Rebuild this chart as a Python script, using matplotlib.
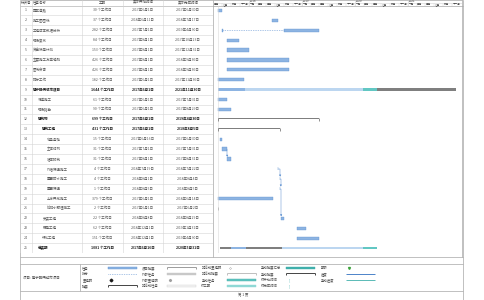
import numpy as np
import pandas as pd
import matplotlib
matplotlib.use("Agg")
from matplotlib import pyplot as plt
import matplotlib.dates as mdates

plt.rcParams['font.family'] = ['Noto Sans CJK SC', 'DejaVu Sans']
plt.rcParams['text.color'] = '#4D4D4D'

#task table data
task_ids = list(range(1, 26))
task_names = ["园区道路", "施工图图纸", "工程成本数据分析", "现场复核", "资金使用计划",
              "主要施工方案编制", "图纸会审", "招标工作", "建宁畅概城市项目", "场道施工",
              "现场踏勘", "建筑物", "建筑工程", "地基基础", "主体结构",
              "墙体砌筑", "外墙保温施工", "屋面防水施工", "屋面保温", "土方开挖施工",
              "给排水预埋施工", "安装工程", "弱电工程", "绿化工程", "总装期"]
levels = [0, 0, 0, 0, 0, 0, 0, 0, 0, 1, 1, 1, 2, 3, 3, 3, 3, 3, 3, 3, 3, 2, 2, 2, 1]
durations = ["30 个工作日", "37 个工作日", "282 个工作日", "84 个工作日", "153 个工作日",
             "426 个工作日", "426 个工作日", "182 个工作日", "1644 个工作日", "61 个工作日",
             "90 个工作日", "699 个工作日", "431 个工作日", "15 个工作日", "31 个工作日",
             "31 个工作日", "4 个工作日", "4 个工作日", "1 个工作日", "379 个工作日",
             "2 个工作日", "22 个工作日", "62 个工作日", "151 个工作日", "1081 个工作日"]
start_dates = ["2017-06-01", "2018-06-11", "2017-07-01", "2017-08-01", "2017-08-01",
               "2017-08-01", "2017-08-01", "2017-06-01", "2017-06-01", "2017-06-01",
               "2017-06-01", "2017-06-01", "2017-06-01", "2017-06-16", "2017-07-01",
               "2017-08-01", "2018-07-19", "2018-08-01", "2018-08-05", "2017-06-01",
               "2017-06-01", "2018-08-08", "2018-12-01", "2018-12-01", "2017-06-16"]
finish_dates = ["2017-06-30", "2018-07-17", "2019-04-30", "2017-10-23", "2017-12-31",
                "2018-09-30", "2018-09-30", "2017-11-30", "2021-11-30", "2017-07-31",
                "2017-08-29", "2019-04-30", "2018-08-05", "2017-06-30", "2017-07-31",
                "2017-08-31", "2018-07-22", "2018-08-04", "2018-08-05", "2018-06-14",
                "2017-06-02", "2018-08-29", "2019-01-31", "2019-04-30", "2020-05-31"]
kinds = ["task", "task", "split", "task", "task", "task", "task", "task", "rollup", "task",
         "task", "summary", "summary", "task", "task", "task", "task", "task", "task", "task",
         "inactive", "task", "task", "task", "rollup"]

#split task (row 3)
split_row = 3
split_starts = ["2017-07-01", "2018-08-29"]
split_ends = ["2017-07-04", "2019-04-30"]

#rolled up summary bars (rows 9 and 25)
rollup_rows = [9, 9, 9, 9, 25, 25, 25, 25, 25]
rollup_starts = ["2017-06-01", "2017-12-03", "2020-02-24", "2020-06-01",
                 "2017-06-16", "2017-08-28", "2017-12-10", "2018-08-15", "2020-02-24"]
rollup_ends = ["2017-12-03", "2020-02-24", "2020-06-01", "2021-11-30",
               "2017-08-28", "2017-12-10", "2018-08-15", "2020-02-24", "2020-05-31"]
rollup_kinds = ["task", "light", "manual", "summary",
                "summary", "task", "summary", "light", "manual"]

#links between tasks
links = [(15, 16), (17, 18), (18, 19), (19, 22)]

#timescale
years = [2018, 2019, 2020, 2021]
month_names = ["一月", "三月", "五月", "七月", "九月", "十一月"]

#legend
legend_names = ["任务", "拆分", "里程碑", "摘要", "项目摘要", "外部任务", "外部里程碑", "非活动任务",
                "非活动里程碑", "非活动摘要", "手动任务", "仅工期", "手动摘要汇总", "手动摘要",
                "仅开始时间", "仅完成时间", "期限", "进度", "手动进度"]
legend_styles = ["task", "split", "milestone", "summary", "project", "external", "ext_milestone",
                 "inactive", "inactive_milestone", "inactive_summary", "manual", "duration_only",
                 "manual_rollup", "summary", "start_only", "finish_only", "deadline", "progress",
                 "manual_progress"]
project_label = "项目: 建宁畅概城市项目"

#colours
C_TASK = "#8DB4E2"
C_EDGE = "#5B8FD0"
C_LIGHT = "#BCD6F0"
C_SUM = "#7F7F7F"
C_MAN = "#62C7C3"
C_GRID = "#D4D4D4"
C_LINE = "#A6A6A6"
FS = 2.5

W, H = 484, 300
fig = plt.figure(figsize=(W / 100, H / 100), dpi=100)


def box(x0, y0, x1, y1):
    return [x0 / W, 1 - y1 / H, (x1 - x0) / W, (y1 - y0) / H]


def d2n(values):
    return mdates.date2num(pd.to_datetime(values).values)


#page frame
bg = fig.add_axes([0, 0, 1, 1])
bg.set_xlim(0, W)
bg.set_ylim(H, 0)
bg.axis("off")
bg.vlines([20, 463], 0, H - 0.5, color=C_LINE, lw=0.5)
bg.vlines([213, 462], 0, 257, color=C_LINE, lw=0.5)
bg.vlines(80, 264, 291, color=C_LINE, lw=0.5)
bg.hlines([0.3, 5.5, 257, 264, 291, H - 0.5], 20, 463, color=C_LINE, lw=0.5)

#table header
th = fig.add_axes(box(20, 0, 213, 5.5))
th.set_xlim(0, 193)
th.set_ylim(1, 0)
th.axis("off")
col_edges = [0, 12, 62, 103, 143, 193]
th.vlines(col_edges, 0, 1, color=C_GRID, lw=0.4)
th.text(1, 0.5, "标识号", fontsize=FS, va="center", ha="left")
th.text(13, 0.5, "任务名称", fontsize=FS, va="center", ha="left")
for c, label in zip([82.5, 123, 168], ["工期", "实际开始时间", "实际完成时间"]):
    th.text(c, 0.5, label, fontsize=FS, va="center", ha="center")

#table body
tb = fig.add_axes(box(20, 5.5, 213, 253))
tb.set_xlim(0, 193)
tb.set_ylim(25.5, 0.5)
tb.axis("off")
tb.hlines(np.arange(0.5, 26, 1), 0, 193, color=C_GRID, lw=0.4)
tb.vlines(col_edges, 0.5, 25.5, color=C_GRID, lw=0.4)


def zh_date(s):
    d = pd.Timestamp(s)
    return f"{d.year}年{d.month}月{d.day}日"


for i in range(len(task_ids)):
    row = task_ids[i]
    bold = kinds[i] in ("rollup", "summary")
    wt = "bold" if bold else "normal"
    tc = "#1F1F1F" if bold else "#5A5A5A"
    tb.text(6, row, str(row), fontsize=FS, ha="center", va="center", color="#5A5A5A")
    tb.text(13 + 4.7 * levels[i], row, task_names[i], fontsize=FS, ha="left", va="center",
            weight=wt, color=tc)
    tb.text(82.5, row, durations[i], fontsize=FS, ha="center", va="center", weight=wt, color=tc)
    tb.text(123, row, zh_date(start_dates[i]), fontsize=FS, ha="center", va="center",
            weight=wt, color=tc)
    tb.text(168, row, zh_date(finish_dates[i]), fontsize=FS, ha="center", va="center",
            weight=wt, color=tc)

#gantt
x_left, x_right = d2n(["2017-04-28", "2022-01-08"])
gh = fig.add_axes(box(213, 0, 462, 5.5))
gh.set_xlim(x_left, x_right)
gh.set_ylim(2, 0)
gh.axis("off")
year_x = d2n([f"{y}-01-01" for y in years])
gh.vlines(year_x, 0, 2, color=C_GRID, lw=0.4)
gh.hlines(1, x_left, x_right, color=C_GRID, lw=0.4)
for yx, y in zip(year_x, years):
    gh.text(yx + 8, 0.5, str(y), fontsize=2.2, va="center", ha="left")
month_ticks = pd.date_range("2017-05-01", "2021-12-01", freq="2MS")
gh.vlines(d2n(month_ticks), 1, 2, color=C_GRID, lw=0.3)
for m in month_ticks:
    gh.text(d2n([m])[0] + 4, 1.5, month_names[(m.month - 1) // 2], fontsize=1.9,
            va="center", ha="left")

gt = fig.add_axes(box(213, 5.5, 462, 253))
gt.set_xlim(x_left, x_right)
gt.set_ylim(25.5, 0.5)
gt.axis("off")
gt.axvline(d2n(["2017-06-01"])[0], color="#DADADA", lw=0.4)

starts = d2n(start_dates)
ends = d2n(finish_dates) + 1
rows = np.array(task_ids)
bh = 0.32

task_mask = np.array([k == "task" for k in kinds])
gt.barh(rows[task_mask], (ends - starts)[task_mask], left=starts[task_mask], height=bh,
        color=C_TASK, edgecolor=C_EDGE, lw=0.25)

#split task
ss = d2n(split_starts)
se = d2n(split_ends) + 1
gt.barh([split_row] * 2, se - ss, left=ss, height=bh, color=C_TASK, edgecolor=C_EDGE, lw=0.25)
gt.hlines(split_row, se[0], ss[1], color=C_EDGE, lw=0.5, linestyles=(0, (1, 1.5)))

#summary brackets
sum_mask = np.array([k == "summary" for k in kinds])
gt.barh(rows[sum_mask] - 0.06, (ends - starts)[sum_mask], left=starts[sum_mask], height=0.1,
        color=C_SUM, lw=0)
gt.vlines(starts[sum_mask], rows[sum_mask] - 0.1, rows[sum_mask] + 0.14, color=C_SUM, lw=0.6)
gt.vlines(ends[sum_mask], rows[sum_mask] - 0.1, rows[sum_mask] + 0.14, color=C_SUM, lw=0.6)

#inactive task
in_mask = np.array([k == "inactive" for k in kinds])
gt.vlines(starts[in_mask], rows[in_mask] - 0.18, rows[in_mask] + 0.18, color="#B0B0B0", lw=0.5)

#rolled up bars
rollup_colors = {"task": C_TASK, "light": C_LIGHT, "manual": C_MAN, "summary": C_SUM}
rs = d2n(rollup_starts)
re_ = d2n(rollup_ends)
gt.barh(rollup_rows, re_ - rs, left=rs, height=0.28,
        color=[rollup_colors[k] for k in rollup_kinds], lw=0)

#links
for a, b in links:
    ia, ib = a - 1, b - 1
    gt.annotate("", xy=(starts[ib] + 3, rows[ib] - 0.2), xytext=(ends[ia], rows[ia]),
                arrowprops=dict(arrowstyle="-|>", color=C_EDGE, lw=0.35, mutation_scale=2.5,
                                shrinkA=0, shrinkB=0,
                                connectionstyle="angle,angleA=0,angleB=90,rad=0"))

#legend box
bg.text(23, 278, project_label, fontsize=FS, ha="left", va="center")
lg = fig.add_axes(box(80, 264, 463, 291))
lg.set_xlim(0, 383 / 59.5)
lg.set_ylim(3.8, -0.7)
lg.axis("off")
for k, (name, style) in enumerate(zip(legend_names, legend_styles)):
    c, r = k // 4, k % 4
    x0, x1 = c + 0.04, c + 0.47
    x2 = c + 0.95
    lg.text(x0, r, name, fontsize=FS - 0.1, ha="left", va="center")
    if style in ("task", "external", "manual", "duration_only", "manual_rollup", "inactive"):
        face = {"task": C_TASK, "external": "#C8C8C8", "manual": C_MAN,
                "duration_only": "#8FD8D5", "manual_rollup": "#3FAFAB", "inactive": "#F4F4F4"}[style]
        edge = {"task": C_EDGE, "manual": "#3FA9A5", "inactive": "#D0D0D0"}.get(style, face)
        lg.barh(r, x2 - x1, left=x1, height=0.32, color=face, edgecolor=edge, lw=0.3)
    elif style in ("summary", "project", "inactive_summary"):
        col = {"summary": "#262626", "project": "#8C8C8C", "inactive_summary": "#B4B4B4"}[style]
        lg.hlines(r - 0.12, x1, x2, color=col, lw=0.6)
        lg.vlines([x1, x2], r - 0.12, r + 0.15, color=col, lw=0.6)
    elif style == "split":
        lg.hlines(r, x1, x2, color=C_EDGE, lw=0.5, linestyles=(0, (1, 1.5)))
    elif style == "milestone":
        lg.plot(x1 + 0.05, r, marker="D", ms=1.4, color="#1A1A1A", lw=0)
    elif style == "ext_milestone":
        lg.plot(x1 + 0.05, r, marker="D", ms=1.1, color="#A0A0A0", lw=0)
    elif style == "inactive_milestone":
        lg.plot(x1 + 0.05, r, marker="D", ms=1.1, mfc="white", mec="#A0A0A0", mew=0.3, lw=0)
    elif style == "start_only":
        lg.text(x1 + 0.05, r, "[", fontsize=FS, color="#3FAFAB", ha="center", va="center")
    elif style == "finish_only":
        lg.text(x1 + 0.05, r, "]", fontsize=FS, color="#3FAFAB", ha="center", va="center")
    elif style == "deadline":
        lg.plot(x1 + 0.05, r, marker="v", ms=1.4, color="#3AA33A", lw=0)
    elif style == "progress":
        lg.hlines(r, x1, x2, color="#2F6FC0", lw=0.6)
    elif style == "manual_progress":
        lg.hlines(r, x1, x2, color="#3FAFAB", lw=0.6)

bg.text(243, 295.5, "第 1 页", fontsize=FS, ha="center", va="center")

fig.savefig("out.png", dpi=100)
